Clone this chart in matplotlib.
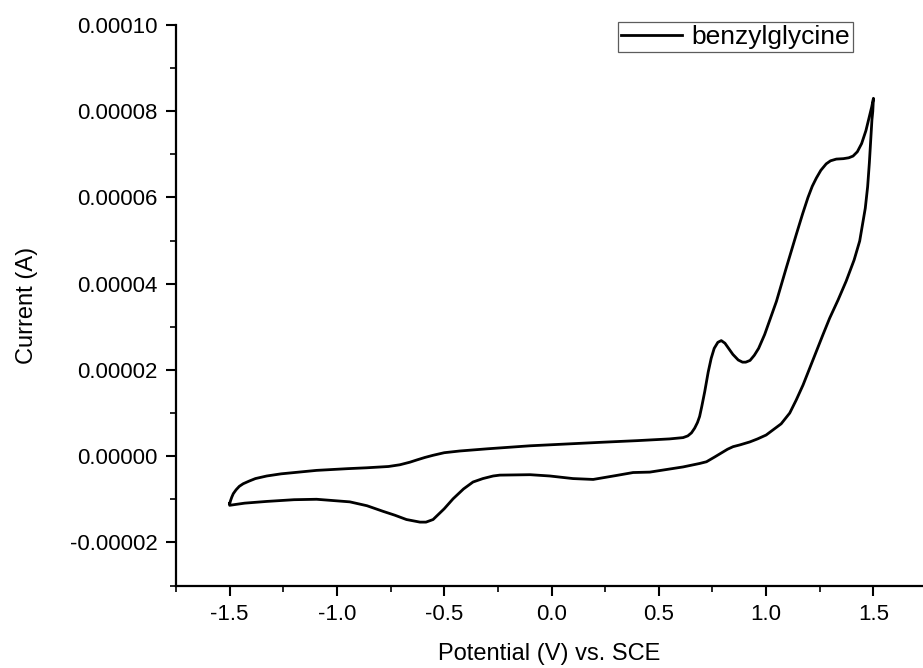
import matplotlib
matplotlib.use("Agg")
import matplotlib.pyplot as plt
from matplotlib.ticker import FixedLocator, MultipleLocator, FixedFormatter

plt.rcParams['font.family'] = ['Liberation Sans', 'DejaVu Sans']

# Forward (anodic) scan, -1.5 V -> +1.5 V
fwd_potential = [-1.50, -1.495, -1.49, -1.483, -1.47, -1.455, -1.437, -1.41, -1.38, -1.327,
                 -1.26, -1.20, -1.095, -0.95, -0.862, -0.76, -0.707, -0.66, -0.629, -0.59,
                 -0.552, -0.50, -0.427, -0.30, -0.101, 0.10, 0.225, 0.40, 0.55, 0.613,
                 0.635, 0.652, 0.667, 0.68, 0.69, 0.70, 0.714, 0.73, 0.744, 0.758,
                 0.775, 0.791, 0.808, 0.825, 0.845, 0.87, 0.89, 0.905, 0.925, 0.945,
                 0.965, 0.993, 1.02, 1.048, 1.094, 1.141, 1.17, 1.195, 1.215, 1.234,
                 1.255, 1.28, 1.30, 1.327, 1.36, 1.385, 1.405, 1.425, 1.445, 1.465,
                 1.48, 1.492, 1.50]
fwd_current_e5 = [-1.10, -1.02, -0.95, -0.87, -0.78, -0.70, -0.64, -0.58, -0.52, -0.46,
                  -0.41, -0.38, -0.33, -0.29, -0.27, -0.24, -0.20, -0.14, -0.09, -0.03,
                  0.02, 0.08, 0.12, 0.17, 0.24, 0.29, 0.32, 0.36, 0.40, 0.43,
                  0.47, 0.54, 0.65, 0.78, 0.92, 1.15, 1.50, 1.95, 2.27, 2.50,
                  2.64, 2.68, 2.62, 2.50, 2.36, 2.23, 2.18, 2.18, 2.22, 2.34,
                  2.50, 2.82, 3.20, 3.59, 4.37, 5.15, 5.62, 6.00, 6.26, 6.45,
                  6.63, 6.78, 6.85, 6.89, 6.90, 6.92, 6.96, 7.06, 7.25, 7.55,
                  7.85, 8.10, 8.30]

# Reverse (cathodic) scan, +1.5 V -> -1.5 V
rev_potential = [1.497, 1.493, 1.488, 1.481, 1.473, 1.462, 1.45, 1.436, 1.41, 1.373,
                 1.335, 1.296, 1.265, 1.234, 1.20, 1.172, 1.14, 1.11, 1.07, 1.032,
                 1.0, 0.96, 0.924, 0.877, 0.846, 0.82, 0.80, 0.76, 0.722, 0.69,
                 0.613, 0.458, 0.38, 0.30, 0.194, 0.10, -0.008, -0.10, -0.241, -0.272,
                 -0.32, -0.366, -0.41, -0.459, -0.50, -0.552, -0.585, -0.613, -0.645, -0.676,
                 -0.73, -0.785, -0.86, -0.94, -1.095, -1.20, -1.327, -1.43, -1.50, -1.50]
rev_current_e5 = [8.00, 7.80, 7.40, 6.80, 6.25, 5.75, 5.40, 4.99, 4.55, 4.06,
                  3.62, 3.20, 2.82, 2.43, 2.00, 1.65, 1.30, 1.00, 0.75, 0.61,
                  0.49, 0.40, 0.33, 0.26, 0.22, 0.16, 0.10, -0.02, -0.13, -0.17,
                  -0.25, -0.37, -0.38, -0.45, -0.54, -0.52, -0.46, -0.43, -0.44, -0.46,
                  -0.52, -0.60, -0.76, -0.99, -1.22, -1.47, -1.53, -1.53, -1.50, -1.47,
                  -1.37, -1.28, -1.15, -1.06, -1.00, -1.01, -1.05, -1.09, -1.14, -1.10]

series_label = "benzylglycine"
x_ticks = [-1.5, -1.0, -0.5, 0.0, 0.5, 1.0, 1.5]
x_tick_labels = ["-1.5", "-1.0", "-0.5", "0.0", "0.5", "1.0", "1.5"]
y_ticks = [-0.00002, 0.0, 0.00002, 0.00004, 0.00006, 0.00008, 0.00010]
y_tick_labels = ["-0.00002", "0.00000", "0.00002", "0.00004", "0.00006", "0.00008", "0.00010"]

potential = fwd_potential + rev_potential
current = [v * 1e-5 for v in fwd_current_e5 + rev_current_e5]

fig = plt.figure(figsize=(9.23, 6.68), dpi=100)
ax = fig.add_axes([176 / 923, (668 - 585.5) / 668, 1 - 176 / 923, (585.5 - 25) / 668])

ax.plot(potential, current, color='black', lw=2.0, label=series_label,
        solid_joinstyle='round')

ax.set_xlim(-1.75, 1.731)
ax.set_ylim(-0.00003, 0.0001)

for s in ['top', 'right']:
    ax.spines[s].set_visible(False)
for s in ['left', 'bottom']:
    ax.spines[s].set_linewidth(1.6)

ax.xaxis.set_major_locator(FixedLocator(x_ticks))
ax.xaxis.set_major_formatter(FixedFormatter(x_tick_labels))
ax.xaxis.set_minor_locator(MultipleLocator(0.25))
ax.yaxis.set_major_locator(FixedLocator(y_ticks))
ax.yaxis.set_major_formatter(FixedFormatter(y_tick_labels))
ax.yaxis.set_minor_locator(MultipleLocator(0.00001))

ax.tick_params(which='major', direction='out', length=7, width=1.5, labelsize=16, pad=6,
               colors='black')
ax.tick_params(which='minor', direction='out', length=4, width=1.2)

ax.set_xlabel("Potential (V) vs. SCE", fontsize=17, labelpad=13)
ax.set_ylabel("Current (A)", fontsize=17, labelpad=23)

leg = ax.legend(loc='upper right', bbox_to_anchor=(853 / 923, 1 - 22 / 668),
                bbox_transform=fig.transFigure, borderaxespad=0, fontsize=19,
                frameon=True, fancybox=False, edgecolor='#333333', handlelength=2.3,
                handletextpad=0.35, borderpad=0.12)
leg.get_frame().set_linewidth(0.9)

fig.savefig("out.png", dpi=100)
